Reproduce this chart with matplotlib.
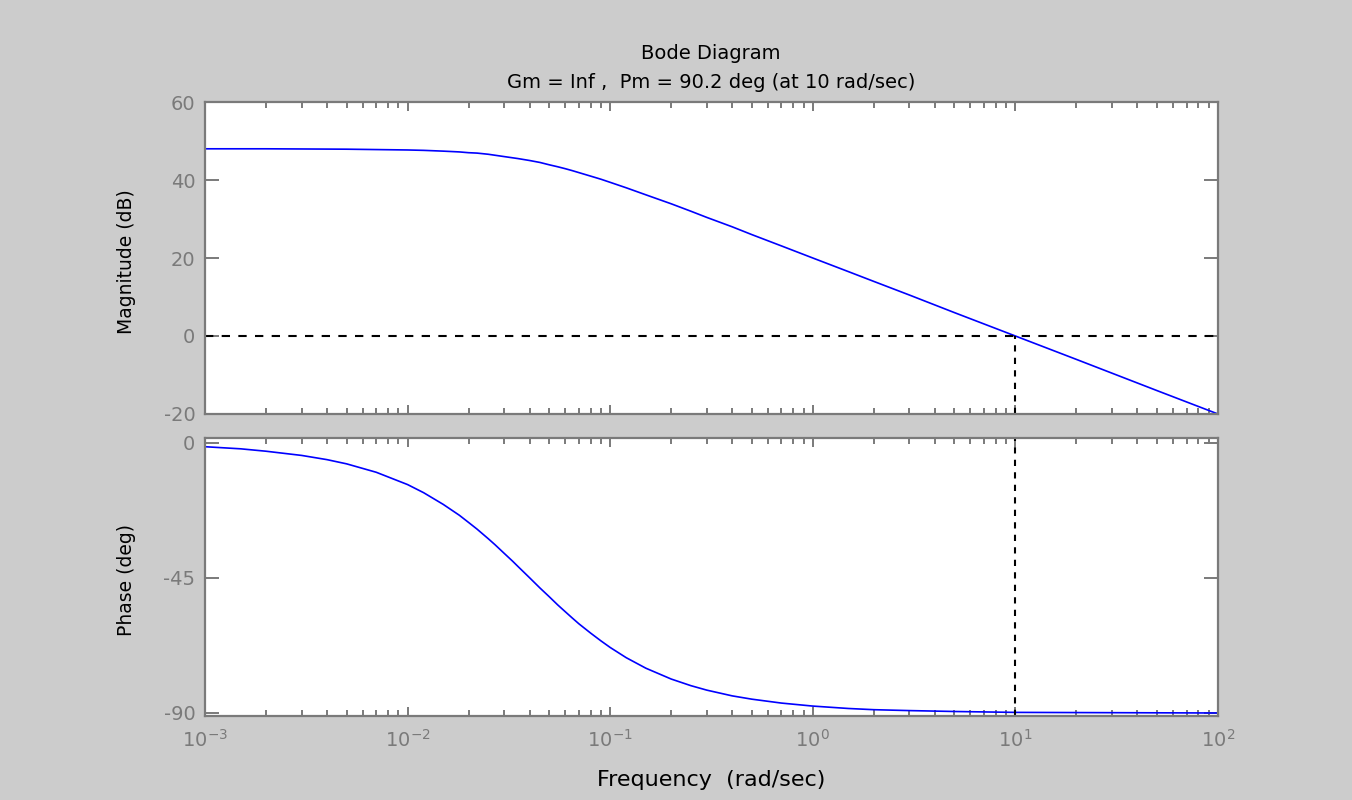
import matplotlib
matplotlib.use('Agg')
import matplotlib.pyplot as plt
from matplotlib.ticker import LogLocator, NullFormatter

# values
freq_mag = [0.001, 0.002, 0.005, 0.01, 0.012, 0.015, 0.018, 0.02, 0.022, 0.025, 0.03,
            0.035, 0.04, 0.045, 0.05, 0.055, 0.06, 0.065, 0.07, 0.08, 0.09, 0.1, 0.12,
            0.15, 0.2, 0.25, 0.3, 0.4, 0.5, 0.7, 1, 1.5, 2, 3, 5, 10, 20, 50, 100]
mag_db = [48.0, 48.0, 47.9, 47.7, 47.6, 47.4, 47.2, 47.0, 46.9, 46.6, 46.0,
          45.5, 45.0, 44.5, 43.9, 43.4, 42.9, 42.4, 41.9, 41.0, 40.2, 39.4, 38.0,
          36.2, 33.9, 32.0, 30.4, 28.0, 26.0, 23.1, 20.0, 16.5, 14.0, 10.5, 6.0, 0.0,
          -6.0, -14.0, -20.0]

freq_ph = [0.001, 0.0015, 0.002, 0.003, 0.004, 0.005, 0.007, 0.01, 0.012, 0.015, 0.018,
           0.02, 0.022, 0.025, 0.027, 0.03, 0.033, 0.035, 0.04, 0.045, 0.05, 0.055, 0.06,
           0.065, 0.07, 0.08, 0.09, 0.1, 0.12, 0.15, 0.2, 0.25, 0.3, 0.4, 0.5, 0.7, 1,
           1.5, 2, 3, 5, 10, 100]
phase_deg = [-1.4, -2.1, -2.9, -4.3, -5.7, -7.1, -9.9, -14.0, -16.7, -20.6, -24.2,
             -26.6, -28.8, -32.0, -34.0, -36.9, -39.5, -41.2, -45.0, -48.4, -51.3, -54.0, -56.3,
             -58.4, -60.3, -63.4, -66.0, -68.2, -71.6, -75.1, -78.7, -80.9, -82.4, -84.3, -85.4,
             -86.7, -87.7, -88.5, -88.9, -89.2, -89.5, -89.8, -90.0]

wc = 10        # crossover frequency (rad/sec)
mag_ticks = [-20, 0, 20, 40, 60]
phase_ticks = [-90, -45, 0]

plt.rcParams['font.family'] = ['DejaVu Sans']
plt.rcParams['axes.unicode_minus'] = False

grey = '#7a7a7a'
W, H = 1352, 800
fig = plt.figure(figsize=(W / 100, H / 100), dpi=100, facecolor='#cccccc')
ax1 = fig.add_axes([205 / W, 1 - 414 / H, 1013 / W, 312 / H])
ax2 = fig.add_axes([205 / W, 1 - 716 / H, 1013 / W, 278 / H])

for ax in (ax1, ax2):
    ax.set_xscale('log')
    ax.set_xlim(1e-3, 1e2)
    ax.set_facecolor('white')
    for s in ax.spines.values():
        s.set_color(grey)
        s.set_linewidth(1.6)
    ax.xaxis.set_major_locator(LogLocator(base=10, numticks=10))
    ax.xaxis.set_minor_locator(LogLocator(base=10, subs=range(2, 10), numticks=20))
    ax.xaxis.set_minor_formatter(NullFormatter())
    ax.tick_params(axis='x', which='major', direction='in', length=6.5, width=1.4,
                   color=grey, top=True, labelcolor=grey, labelsize=14, pad=9)
    ax.tick_params(axis='x', which='minor', direction='in', length=4, width=1.4,
                   color=grey, top=True)
    ax.tick_params(axis='y', which='major', direction='in', length=10, width=1.4,
                   color=grey, right=True, labelcolor=grey, labelsize=14, pad=7)
    ax.tick_params(axis='y', which='minor', left=False, right=False)

ax1.plot(freq_mag, mag_db, color='blue', lw=1.2)
ax1.axhline(0, color='black', ls=(0, (4, 4)), lw=1.5)
ax1.axvline(wc, ymin=0, ymax=20 / 80, color='black', ls=(0, (3, 3)), lw=1.5)
ax1.set_ylim(-20, 60)
ax1.set_yticks(mag_ticks)
ax1.tick_params(axis='x', labelbottom=False)

ax2.plot(freq_ph, phase_deg, color='blue', lw=1.2)
ax2.axvline(wc, color='black', ls=(0, (3, 3)), lw=1.5)
ax2.set_ylim(-91, 1.5)
ax2.set_yticks(phase_ticks)

# labels and titles placed where they sit in the reference
fig.text(127 / W, 1 - 262 / H, 'Magnitude (dB)', rotation=90, ha='center', va='center',
         fontsize=13.5)
fig.text(127 / W, 1 - 580 / H, 'Phase (deg)', rotation=90, ha='center', va='center',
         fontsize=13.5)
fig.text(711 / W, 1 - 786 / H, 'Frequency  (rad/sec)', ha='center', va='baseline',
         fontsize=16)
fig.text(711 / W, 1 - 59 / H, 'Bode Diagram', ha='center', va='baseline', fontsize=14)
fig.text(711 / W, 1 - 88 / H, 'Gm = Inf ,  Pm = 90.2 deg (at 10 rad/sec)', ha='center',
         va='baseline', fontsize=14)

fig.savefig('out.png', dpi=100, facecolor=fig.get_facecolor())
